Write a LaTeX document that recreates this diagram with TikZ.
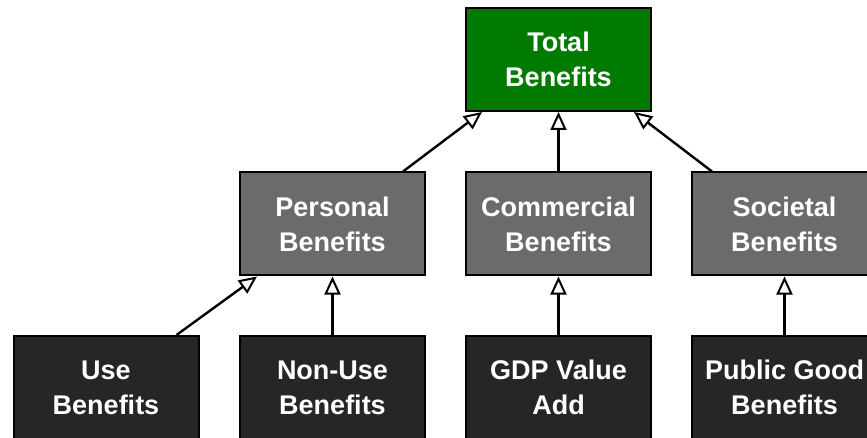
\documentclass[tikz,border=0pt]{standalone}
\usepackage{fontspec}
\setmainfont{Liberation Sans}
\usetikzlibrary{arrows.meta}
\definecolor{topgreen}{HTML}{007A00}
\definecolor{midgray}{HTML}{6B6B6B}
\definecolor{darkbox}{HTML}{262626}
\tikzset{
  box/.style={draw=black, line width=2pt, minimum width=185pt, minimum height=103pt,
    inner sep=0pt, text=white, align=center,
    font=\fontsize{27}{35}\selectfont\bfseries},
  topbox/.style={box, fill=topgreen},
  midbox/.style={box, fill=midgray},
  lowbox/.style={box, fill=darkbox},
  link/.style={line width=2.4pt, -{Triangle[open, length=18pt, width=16pt, line width=2pt]}}
}
\begin{document}
\begin{tikzpicture}[x=1pt, y=-1pt]
\clip (0,0) rectangle (867,438);
\fill[white] (0,0) rectangle (867,438);
\node[topbox] (total) at (558.5,59.5) {Total\\Benefits};
\node[midbox] (pers) at (332.5,224) {Personal\\Benefits};
\node[midbox] (comm) at (558.5,224) {Commercial\\Benefits};
\node[midbox] (soc) at (784.5,224) {Societal\\Benefits};
\node[lowbox] (use) at (106,387.5) {Use\\Benefits};
\node[lowbox] (nonuse) at (332.5,387.5) {Non-Use\\Benefits};
\node[lowbox] (gdp) at (558.5,387.5) {GDP Value\\Add};
\node[lowbox] (pub) at (784.5,387.5) {Public Good\\Benefits};
\draw[link] ([xshift=-23pt]pers.north east) -- ([xshift=17pt]total.south west);
\draw[link] (comm.north) -- (total.south);
\draw[link] ([xshift=21pt]soc.north west) -- ([xshift=-18pt]total.south east);
\draw[link] ([xshift=-23pt]use.north east) -- ([xshift=18pt]pers.south west);
\draw[link] (nonuse.north) -- (pers.south);
\draw[link] (gdp.north) -- (comm.south);
\draw[link] (pub.north) -- (soc.south);
\end{tikzpicture}
\end{document}
